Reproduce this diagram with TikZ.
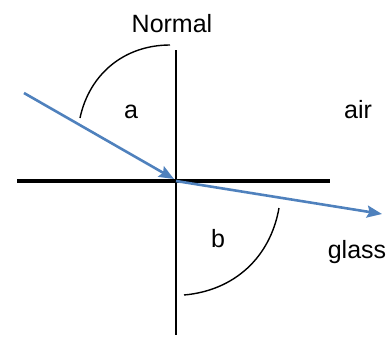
\documentclass[tikz,border=0pt]{standalone}
\usepackage{fontspec}
\setmainfont{Liberation Sans}
\usetikzlibrary{arrows.meta}

\begin{document}
\begin{tikzpicture}[x=0.5pt, y=0.5pt,
    lbl/.style={anchor=base, inner sep=0pt, font=\fontsize{12.5}{15}\selectfont},
    ray/.style={draw={rgb,255:red,79;green,129;blue,189}, line width=1.3pt,
        -{Stealth[length=7.5pt, width=6pt, inset=1.2pt]}},
    anglearc/.style={draw, line width=0.7pt}]
    \useasboundingbox (0,0) rectangle (391,339);

    % Points
    \coordinate (O) at (176,158);
    \coordinate (nTop) at (176,289);
    \coordinate (nBot) at (176,4);
    \coordinate (sL) at (17,158);
    \coordinate (sR) at (330,158);
    \coordinate (rayIn) at (24,246);
    \coordinate (rayEnd) at (174,160);
    \coordinate (rayOut) at (382,125);
    \coordinate (aStart) at (80,221);
    \coordinate (aEnd) at (170,294);
    \coordinate (bStart) at (279,131);
    \coordinate (bEnd) at (184,44);

    % Normal and surface
    \draw[line width=0.75pt] (nTop) -- (nBot);
    \draw[line width=2pt] (sL) -- (sR);

    % Angle arcs
    \draw[anglearc] (aStart) to[out=78, in=180] (aEnd);
    \draw[anglearc] (bStart) to[out=-100, in=5] (bEnd);

    % Rays
    \draw[ray] (rayIn) -- (rayEnd);
    \draw[ray] (O) -- (rayOut);

    % Labels
    \node[lbl] (normal) at (172,307) {Normal};
    \node[lbl] (a) at (131,221) {a};
    \node[lbl] (air) at (358,221) {air};
    \node[lbl] (b) at (218,92) {b};
    \node[lbl] (glass) at (357,81) {glass};
\end{tikzpicture}
\end{document}
